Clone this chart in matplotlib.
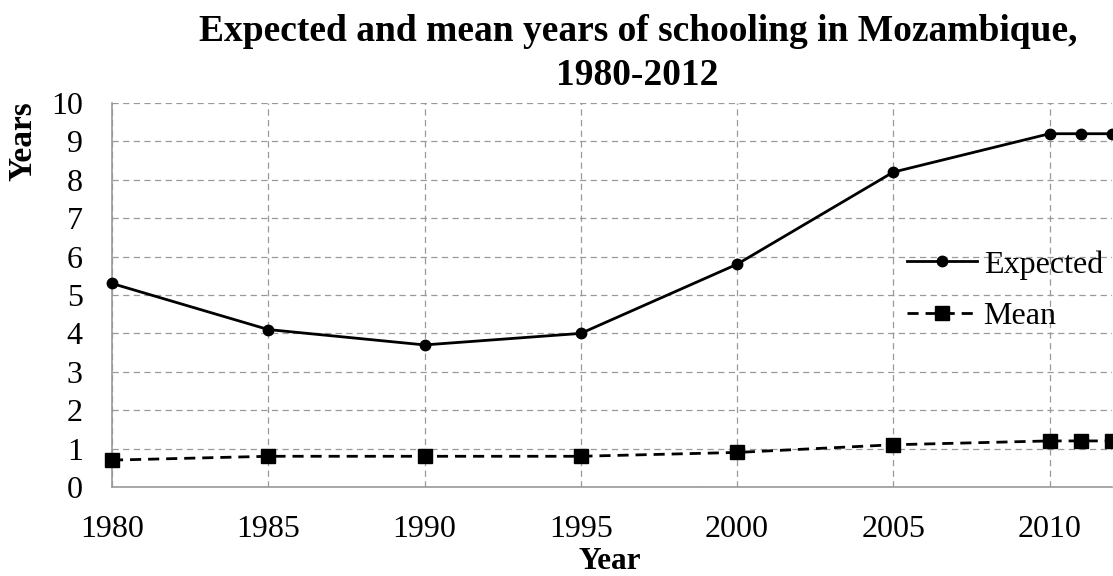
import numpy as np
import matplotlib.pyplot as plt

years = [1980, 1985, 1990, 1995, 2000, 2005, 2010, 2011, 2012]
expected = [5.3, 4.1, 3.7, 4.0, 5.8, 8.2, 9.2, 9.2, 9.2]
mean = [0.7, 0.8, 0.8, 0.8, 0.9, 1.1, 1.2, 1.2, 1.2]
xticks = [1980, 1985, 1990, 1995, 2000, 2005, 2010]

plt.rcParams['font.family'] = ['Liberation Serif', 'DejaVu Serif']

fig = plt.figure(figsize=(11.13, 5.76), dpi=100)
ax = fig.add_axes([112/1113, 1-487/576, 1000/1113, 384/576])

ax.plot(years, expected, color='black', lw=2, marker='o', ms=7.5, label='Expected', clip_on=False, zorder=3)
ax.plot(years, mean, color='black', lw=2, ls=(0, (4, 2.5)), marker='s', ms=9.5, label='Mean', clip_on=False, zorder=3)

ax.set_xlim(1980, 2012)
ax.set_ylim(0, 10)
ax.set_xticks(xticks)
ax.set_yticks(range(0, 11))
ax.grid(True, color='#999999', ls=(0, (5, 3.5)), lw=0.9)
ax.tick_params(length=0, labelsize=23)
ax.tick_params(axis='x', pad=20)
ax.tick_params(axis='y', pad=21)
for s in ['top', 'right']:
    ax.spines[s].set_visible(False)
for s in ['left', 'bottom']:
    ax.spines[s].set_color('#999999')
    ax.spines[s].set_linewidth(1.2)

ax.set_xlabel('Year', fontsize=22.5, fontweight='bold')
ax.xaxis.label.set_va('baseline')
ax.xaxis.set_label_coords(0.498, -0.214)
ax.set_ylabel('Years', fontsize=24, fontweight='bold')
ax.yaxis.set_label_coords(-0.074, 0.9)

fig.text(0.573, 0.976, 'Expected and mean years of schooling in Mozambique,\n1980-2012',
         fontsize=27, fontweight='bold', ha='center', va='top', linespacing=1.33)

leg = ax.legend(loc='center right', bbox_to_anchor=(1.01, 0.511), frameon=False,
                fontsize=23, handlelength=2.2, handletextpad=0.2, labelspacing=0.7,
                borderaxespad=0.2)

fig.savefig('out.png', dpi=100)
